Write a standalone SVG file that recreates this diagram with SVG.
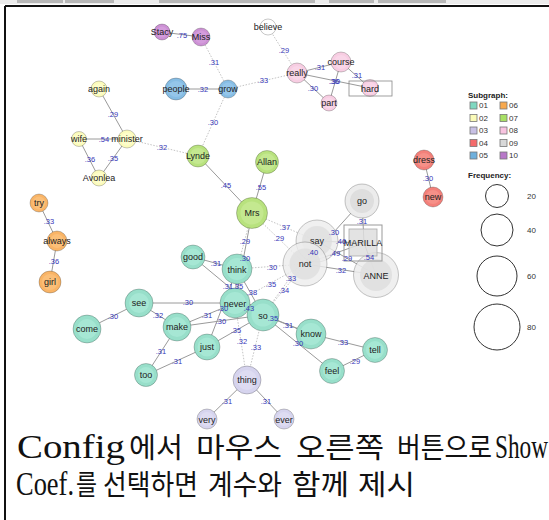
<svg xmlns="http://www.w3.org/2000/svg" width="549" height="520" viewBox="0 0 549 520">
<style>
  .bar { fill: #b8b8b8; }
  .e { stroke: #9a9a9a; stroke-width: 1; fill: none; }
  .d { stroke: #c4c4c4; stroke-width: 1; stroke-dasharray: 1.5 1.5; fill: none; }
  .w { font-family: "Liberation Sans", Arial, sans-serif; font-size: 7.5px; fill: #3636b8; text-anchor: middle; dominant-baseline: central; }
  .out { stroke: rgba(0,0,0,0.22); stroke-width: 1; }
  .lbl { font-family: "Liberation Sans", Arial, sans-serif; font-size: 9px; fill: #222; text-anchor: middle; dominant-baseline: central; }
  .g01 .out { fill: #98dfca; } .g01 .in { fill: #a6e7d4; }
  .g02 .out { fill: #fbfbbc; } .g02 .in { fill: #fdfdca; }
  .g03 .out { fill: #d6d4ee; } .g03 .in { fill: #dedcf2; }
  .g04 .out { fill: #f3807a; } .g04 .in { fill: #f69088; }
  .g05 .out { fill: #86bde4; } .g05 .in { fill: #94c6ea; }
  .g06 .out { fill: #f9b466; } .g06 .in { fill: #fbbf78; }
  .g07 .out { fill: #b8e27e; } .g07 .in { fill: #c4e890; }
  .g08 .out { fill: #f7cde2; } .g08 .in { fill: #f9d6e8; }
  .g09 .out { fill: #ececec; } .g09 .in { fill: #dedede; }
  .g10 .out { fill: #cc90d4; } .g10 .in { fill: #d49cdc; }
  .g00 .out { fill: #ffffff; } .g00 .in { fill: #ffffff; }
  .lg { font-family: "Liberation Sans", Arial, sans-serif; font-size: 8px; fill: #333; dominant-baseline: central; }
  .lgh { font-family: "Liberation Sans", Arial, sans-serif; font-size: 8px; font-weight: bold; fill: #222; }
  .sw { stroke: #777; stroke-width: 0.8; }
  .fc { fill: none; stroke: #333; stroke-width: 1; }
  .kr { font-family: "Noto Sans CJK KR", "Noto Sans CJK SC", sans-serif; font-size: 28px; fill: #111; }
  .la { font-family: "Liberation Serif", "Times New Roman", serif; font-size: 33px; fill: #111; }
</style>

<rect x="0" y="0" width="549" height="520" fill="#ffffff"/>

<!-- toolbar strip -->
<rect x="0" y="0" width="549" height="4" fill="#ececec"/>
<rect class="bar" x="17" y="0" width="46" height="3"/>
<rect class="bar" x="65" y="0" width="49" height="3"/>
<rect class="bar" x="159" y="0" width="156" height="3"/>
<rect class="bar" x="329" y="0" width="45" height="3"/>
<rect class="bar" x="378" y="0" width="68" height="3"/>

<!-- frame -->
<line x1="5" y1="6" x2="549" y2="6" stroke="#111" stroke-width="2"/>
<line x1="5" y1="6" x2="5" y2="520" stroke="#111" stroke-width="2"/>

<g id="connectors">
  <line class="e" x1="162" y1="32" x2="201" y2="37"/>
  <line class="e" x1="176" y1="89" x2="228" y2="89"/>
  <line class="d" x1="201" y1="37" x2="228" y2="89"/>
  <line class="d" x1="228" y1="89" x2="297" y2="73"/>
  <line class="d" x1="268" y1="27" x2="297" y2="73"/>
  <line class="d" x1="228" y1="89" x2="198" y2="156"/>
  <line class="d" x1="127" y1="139" x2="198" y2="156"/>
  <line class="e" x1="297" y1="73" x2="341" y2="62"/>
  <line class="e" x1="341" y1="62" x2="370" y2="88"/>
  <line class="e" x1="297" y1="73" x2="370" y2="88"/>
  <line class="e" x1="341" y1="62" x2="329" y2="103"/>
  <line class="e" x1="297" y1="73" x2="329" y2="103"/>
  <line class="e" x1="99" y1="89" x2="127" y2="139"/>
  <line class="e" x1="79" y1="139" x2="127" y2="139"/>
  <line class="e" x1="79" y1="139" x2="99" y2="178"/>
  <line class="e" x1="127" y1="139" x2="99" y2="178"/>
  <line class="e" x1="198" y1="156" x2="252" y2="213"/>
  <line class="e" x1="267" y1="162" x2="252" y2="213"/>
  <line class="e" x1="252" y1="213" x2="235" y2="303"/>
  <line class="d" x1="252" y1="213" x2="317" y2="241"/>
  <line class="d" x1="252" y1="213" x2="305" y2="264"/>
  <line class="d" x1="252" y1="213" x2="237" y2="269"/>
  <line class="e" x1="39" y1="203" x2="57" y2="241"/>
  <line class="e" x1="57" y1="241" x2="50" y2="282"/>
  <line class="e" x1="424" y1="160" x2="433" y2="197"/>
  <line class="e" x1="362" y1="201" x2="305" y2="264"/>
  <line class="e" x1="362" y1="201" x2="364" y2="243"/>
  <line class="e" x1="317" y1="241" x2="364" y2="243"/>
  <line class="e" x1="317" y1="241" x2="305" y2="264"/>
  <line class="e" x1="305" y1="264" x2="364" y2="243"/>
  <line class="e" x1="317" y1="241" x2="376" y2="275"/>
  <line class="e" x1="364" y1="243" x2="376" y2="275"/>
  <line class="e" x1="305" y1="264" x2="376" y2="275"/>
  <line class="e" x1="193" y1="257" x2="237" y2="269"/>
  <line class="e" x1="193" y1="257" x2="263" y2="315"/>
  <line class="e" x1="237" y1="269" x2="235" y2="303"/>
  <line class="e" x1="237" y1="269" x2="263" y2="315"/>
  <line class="d" x1="237" y1="269" x2="305" y2="264"/>
  <line class="d" x1="263" y1="315" x2="317" y2="241"/>
  <line class="d" x1="263" y1="315" x2="305" y2="264"/>
  <line class="d" x1="235" y1="303" x2="305" y2="264"/>
  <line class="e" x1="235" y1="303" x2="263" y2="315"/>
  <line class="e" x1="139" y1="303" x2="87" y2="329"/>
  <line class="e" x1="139" y1="303" x2="235" y2="303"/>
  <line class="e" x1="139" y1="303" x2="177" y2="327"/>
  <line class="e" x1="177" y1="327" x2="235" y2="303"/>
  <line class="e" x1="177" y1="327" x2="263" y2="315"/>
  <line class="e" x1="177" y1="327" x2="146" y2="375"/>
  <line class="e" x1="146" y1="375" x2="207" y2="347"/>
  <line class="e" x1="207" y1="347" x2="237" y2="269"/>
  <line class="e" x1="207" y1="347" x2="263" y2="315"/>
  <line class="e" x1="235" y1="303" x2="311" y2="334"/>
  <line class="e" x1="263" y1="315" x2="311" y2="334"/>
  <line class="e" x1="263" y1="315" x2="332" y2="371"/>
  <line class="e" x1="311" y1="334" x2="375" y2="350"/>
  <line class="e" x1="332" y1="371" x2="375" y2="350"/>
  <line class="d" x1="247" y1="380" x2="235" y2="303"/>
  <line class="d" x1="247" y1="380" x2="263" y2="315"/>
  <line class="e" x1="247" y1="380" x2="207" y2="419"/>
  <line class="e" x1="247" y1="380" x2="284" y2="419"/>
</g>

<g id="n-Stacy" class="g10"><circle class="out" cx="162" cy="32" r="8"/><circle class="in" cx="162" cy="32" r="5.5"/><text class="lbl" x="162" y="32">Stacy</text></g>
<g id="n-Miss" class="g10"><circle class="out" cx="201" cy="37" r="9"/><circle class="in" cx="201" cy="37" r="6.5"/><text class="lbl" x="201" y="37">Miss</text></g>
<g id="n-believe" class="g00"><circle class="out" cx="268" cy="27" r="8"/><text class="lbl" x="268" y="27">believe</text></g>
<g id="n-people" class="g05"><circle class="out" cx="176" cy="89" r="11"/><circle class="in" cx="176" cy="89" r="8"/><text class="lbl" x="176" y="89">people</text></g>
<g id="n-grow" class="g05"><circle class="out" cx="228" cy="89" r="9"/><circle class="in" cx="228" cy="89" r="6.5"/><text class="lbl" x="228" y="89">grow</text></g>
<g id="n-really" class="g08"><circle class="out" cx="297" cy="73" r="10"/><circle class="in" cx="297" cy="73" r="7"/><text class="lbl" x="297" y="73">really</text></g>
<g id="n-course" class="g08"><circle class="out" cx="341" cy="62" r="10"/><circle class="in" cx="341" cy="62" r="7"/><text class="lbl" x="341" y="62">course</text></g>
<g id="n-hard" class="g08"><circle class="out" cx="370" cy="88" r="8.5"/><circle class="in" cx="370" cy="88" r="6"/><rect x="349" y="81" width="43" height="15" fill="none" stroke="#888" stroke-width="0.8"/><text class="lbl" x="370" y="89">hard</text></g>
<g id="n-part" class="g08"><circle class="out" cx="329" cy="103" r="8"/><circle class="in" cx="329" cy="103" r="5.5"/><text class="lbl" x="329" y="103">part</text></g>
<g id="n-again" class="g02"><circle class="out" cx="99" cy="89" r="8"/><circle class="in" cx="99" cy="89" r="5.5"/><text class="lbl" x="99" y="89">again</text></g>
<g id="n-wife" class="g02"><circle class="out" cx="79" cy="139" r="7.5"/><circle class="in" cx="79" cy="139" r="5"/><text class="lbl" x="79" y="139">wife</text></g>
<g id="n-minister" class="g02"><circle class="out" cx="127" cy="139" r="9"/><circle class="in" cx="127" cy="139" r="6.5"/><text class="lbl" x="127" y="139">minister</text></g>
<g id="n-Avonlea" class="g02"><circle class="out" cx="99" cy="178" r="8"/><circle class="in" cx="99" cy="178" r="5.5"/><text class="lbl" x="99" y="178">Avonlea</text></g>
<g id="n-Lynde" class="g07"><circle class="out" cx="198" cy="156" r="11"/><circle class="in" cx="198" cy="156" r="8"/><text class="lbl" x="198" y="156">Lynde</text></g>
<g id="n-Allan" class="g07"><circle class="out" cx="267" cy="162" r="11.5"/><circle class="in" cx="267" cy="162" r="8.5"/><text class="lbl" x="267" y="162">Allan</text></g>
<g id="n-Mrs" class="g07"><circle class="out" cx="252" cy="213" r="15.5"/><circle class="in" cx="252" cy="213" r="11.5"/><text class="lbl" x="252" y="213">Mrs</text></g>
<g id="n-go" class="g09"><circle class="out" cx="362" cy="201" r="17"/><circle class="in" cx="362" cy="201" r="12"/><text class="lbl" x="362" y="201">go</text></g>
<g id="n-say" class="g09"><circle class="out" cx="317" cy="241" r="21" fill-opacity="0.8"/><circle class="in" cx="317" cy="241" r="15" fill-opacity="0.8"/><text class="lbl" x="317" y="241">say</text></g>
<g id="n-not" class="g09"><circle class="out" cx="305" cy="264" r="22" fill-opacity="0.8"/><circle class="in" cx="305" cy="264" r="15.5" fill-opacity="0.8"/><text class="lbl" x="305" y="264">not</text></g>
<g id="n-ANNE" class="g09"><circle class="out" cx="376" cy="275" r="22.5" fill-opacity="0.85"/><circle class="in" cx="376" cy="275" r="16" fill-opacity="0.85"/><text class="lbl" x="376" y="276">ANNE</text></g>
<g id="n-MARILLA" class="g09"><rect x="344" y="225" width="38" height="36" fill="none" stroke="#999" stroke-width="1"/><rect class="in" x="349" y="229" width="28" height="27" stroke="#aaa" stroke-width="0.8" fill-opacity="0.85"/><text class="lbl" x="363" y="243">MARILLA</text></g>
<g id="n-think" class="g01"><circle class="out" cx="237" cy="269" r="15"/><circle class="in" cx="237" cy="269" r="11"/><text class="lbl" x="237" y="270">think</text></g>
<g id="n-good" class="g01"><circle class="out" cx="193" cy="257" r="12"/><circle class="in" cx="193" cy="257" r="8.5"/><text class="lbl" x="193" y="257">good</text></g>
<g id="n-never" class="g01"><circle class="out" cx="235" cy="303" r="15"/><circle class="in" cx="235" cy="303" r="11"/><text class="lbl" x="235" y="304">never</text></g>
<g id="n-so" class="g01"><circle class="out" cx="263" cy="315" r="16"/><circle class="in" cx="263" cy="315" r="11.5"/><text class="lbl" x="263" y="316">so</text></g>
<g id="n-see" class="g01"><circle class="out" cx="139" cy="303" r="14"/><circle class="in" cx="139" cy="303" r="10"/><text class="lbl" x="139" y="303">see</text></g>
<g id="n-come" class="g01"><circle class="out" cx="87" cy="329" r="14"/><circle class="in" cx="87" cy="329" r="10"/><text class="lbl" x="87" y="329">come</text></g>
<g id="n-make" class="g01"><circle class="out" cx="177" cy="327" r="14"/><circle class="in" cx="177" cy="327" r="10"/><text class="lbl" x="177" y="327">make</text></g>
<g id="n-just" class="g01"><circle class="out" cx="207" cy="347" r="13"/><circle class="in" cx="207" cy="347" r="9.5"/><text class="lbl" x="207" y="347">just</text></g>
<g id="n-too" class="g01"><circle class="out" cx="146" cy="375" r="11.5"/><circle class="in" cx="146" cy="375" r="8"/><text class="lbl" x="146" y="375">too</text></g>
<g id="n-know" class="g01"><circle class="out" cx="311" cy="334" r="15"/><circle class="in" cx="311" cy="334" r="11"/><text class="lbl" x="311" y="334">know</text></g>
<g id="n-tell" class="g01"><circle class="out" cx="375" cy="350" r="12.5"/><circle class="in" cx="375" cy="350" r="9"/><text class="lbl" x="375" y="350">tell</text></g>
<g id="n-feel" class="g01"><circle class="out" cx="332" cy="371" r="12.5"/><circle class="in" cx="332" cy="371" r="9"/><text class="lbl" x="332" y="371">feel</text></g>
<g id="n-thing" class="g03"><circle class="out" cx="247" cy="380" r="14"/><circle class="in" cx="247" cy="380" r="10"/><text class="lbl" x="247" y="380">thing</text></g>
<g id="n-very" class="g03"><circle class="out" cx="207" cy="419" r="10"/><circle class="in" cx="207" cy="419" r="7"/><text class="lbl" x="207" y="420">very</text></g>
<g id="n-ever" class="g03"><circle class="out" cx="284" cy="419" r="10"/><circle class="in" cx="284" cy="419" r="7"/><text class="lbl" x="284" y="420">ever</text></g>
<g id="n-dress" class="g04"><circle class="out" cx="424" cy="160" r="10"/><circle class="in" cx="424" cy="160" r="7"/><text class="lbl" x="424" y="160">dress</text></g>
<g id="n-new" class="g04"><circle class="out" cx="433" cy="197" r="10"/><circle class="in" cx="433" cy="197" r="7"/><text class="lbl" x="433" y="197">new</text></g>
<g id="n-try" class="g06"><circle class="out" cx="39" cy="203" r="9"/><circle class="in" cx="39" cy="203" r="6.5"/><text class="lbl" x="39" y="203">try</text></g>
<g id="n-always" class="g06"><circle class="out" cx="57" cy="241" r="10"/><circle class="in" cx="57" cy="241" r="7"/><text class="lbl" x="57" y="241">always</text></g>
<g id="n-girl" class="g06"><circle class="out" cx="50" cy="282" r="11"/><circle class="in" cx="50" cy="282" r="8"/><text class="lbl" x="50" y="282">girl</text></g>

<g id="connector-labels">
  <text class="w" x="182" y="35">.75</text>
  <text class="w" x="203" y="89">.32</text>
  <text class="w" x="214" y="62">.31</text>
  <text class="w" x="263" y="80">.33</text>
  <text class="w" x="284" y="50">.29</text>
  <text class="w" x="320" y="67">.31</text>
  <text class="w" x="357" y="75">.31</text>
  <text class="w" x="334" y="81">.36</text>
  <text class="w" x="335" y="81">.30</text>
  <text class="w" x="313" y="88">.30</text>
  <text class="w" x="113" y="114">.29</text>
  <text class="w" x="104" y="139">.54</text>
  <text class="w" x="90" y="159">.36</text>
  <text class="w" x="113" y="158">.35</text>
  <text class="w" x="162" y="147">.32</text>
  <text class="w" x="213" y="122">.30</text>
  <text class="w" x="226" y="185">.45</text>
  <text class="w" x="261" y="187">.55</text>
  <text class="w" x="285" y="227">.37</text>
  <text class="w" x="279" y="238">.29</text>
  <text class="w" x="245" y="241">.29</text>
  <text class="w" x="245" y="258">.30</text>
  <text class="w" x="362" y="221">.31</text>
  <text class="w" x="334" y="232">.30</text>
  <text class="w" x="341" y="241">.46</text>
  <text class="w" x="313" y="252">.40</text>
  <text class="w" x="335" y="253">.49</text>
  <text class="w" x="347" y="258">.29</text>
  <text class="w" x="369" y="257">.54</text>
  <text class="w" x="341" y="270">.32</text>
  <text class="w" x="216" y="263">.31</text>
  <text class="w" x="228" y="286">.31</text>
  <text class="w" x="238" y="286">.35</text>
  <text class="w" x="252" y="292">.38</text>
  <text class="w" x="272" y="267">.30</text>
  <text class="w" x="291" y="278">.33</text>
  <text class="w" x="284" y="290">.34</text>
  <text class="w" x="271" y="284">.35</text>
  <text class="w" x="249" y="308">.43</text>
  <text class="w" x="188" y="302">.30</text>
  <text class="w" x="113" y="316">.30</text>
  <text class="w" x="158" y="315">.32</text>
  <text class="w" x="207" y="315">.31</text>
  <text class="w" x="221" y="321">.30</text>
  <text class="w" x="223" y="308">.30</text>
  <text class="w" x="161" y="351">.31</text>
  <text class="w" x="177" y="361">.31</text>
  <text class="w" x="236" y="330">.35</text>
  <text class="w" x="273" y="318">.35</text>
  <text class="w" x="288" y="325">.31</text>
  <text class="w" x="298" y="343">.30</text>
  <text class="w" x="343" y="342">.33</text>
  <text class="w" x="355" y="361">.29</text>
  <text class="w" x="242" y="341">.32</text>
  <text class="w" x="256" y="347">.33</text>
  <text class="w" x="227" y="401">.31</text>
  <text class="w" x="266" y="401">.31</text>
  <text class="w" x="49" y="221">.33</text>
  <text class="w" x="54" y="261">.36</text>
  <text class="w" x="428" y="178">.30</text>
</g>

<g id="legend">
  <text class="lgh" x="468" y="98">Subgraph:</text>
  <rect class="sw" x="470" y="102" width="7" height="7" fill="#80d8c0"/><text class="lg" x="479" y="105.5">01</text>
  <rect class="sw" x="470" y="114.5" width="7" height="7" fill="#fbfbb8"/><text class="lg" x="479" y="118">02</text>
  <rect class="sw" x="470" y="127" width="7" height="7" fill="#c8c0e4"/><text class="lg" x="479" y="130.5">03</text>
  <rect class="sw" x="470" y="139.5" width="7" height="7" fill="#f46a6a"/><text class="lg" x="479" y="143">04</text>
  <rect class="sw" x="470" y="152" width="7" height="7" fill="#6fb0dc"/><text class="lg" x="479" y="155.5">05</text>
  <rect class="sw" x="500" y="102" width="7" height="7" fill="#f8a84c"/><text class="lg" x="509" y="105.5">06</text>
  <rect class="sw" x="500" y="114.5" width="7" height="7" fill="#a8e064"/><text class="lg" x="509" y="118">07</text>
  <rect class="sw" x="500" y="127" width="7" height="7" fill="#f8c4e0"/><text class="lg" x="509" y="130.5">08</text>
  <rect class="sw" x="500" y="139.5" width="7" height="7" fill="#d8d8d8"/><text class="lg" x="509" y="143">09</text>
  <rect class="sw" x="500" y="152" width="7" height="7" fill="#b878c8"/><text class="lg" x="509" y="155.5">10</text>
  <text class="lgh" x="468" y="178">Frequency:</text>
  <circle class="fc" cx="497" cy="196" r="11.5"/><text class="lg" x="527" y="196">20</text>
  <circle class="fc" cx="497" cy="230" r="16"/><text class="lg" x="527" y="230">40</text>
  <circle class="fc" cx="497" cy="276" r="20"/><text class="lg" x="527" y="276">60</text>
  <circle class="fc" cx="497" cy="327" r="23"/><text class="lg" x="527" y="327">80</text>
</g>

<!-- caption panel -->
<rect x="6" y="430" width="543" height="90" fill="#ffffff"/>
<g id="caption">
  <text class="la" x="17" y="458" textLength="108" lengthAdjust="spacingAndGlyphs">Config</text>
  <text class="kr" x="129" y="458" textLength="54" lengthAdjust="spacingAndGlyphs">에서</text>
  <text class="kr" x="196" y="458" textLength="86" lengthAdjust="spacingAndGlyphs">마우스</text>
  <text class="kr" x="296" y="458" textLength="88" lengthAdjust="spacingAndGlyphs">오른쪽</text>
  <text class="kr" x="397" y="458" textLength="95" lengthAdjust="spacingAndGlyphs">버튼으로</text>
  <text class="la" x="495" y="458" textLength="53" lengthAdjust="spacingAndGlyphs">Show</text>
  <text class="la" x="16" y="495" textLength="58" lengthAdjust="spacingAndGlyphs">Coef.</text>
  <text class="kr" x="76" y="495" textLength="21" lengthAdjust="spacingAndGlyphs">를</text>
  <text class="kr" x="103" y="495" textLength="95" lengthAdjust="spacingAndGlyphs">선택하면</text>
  <text class="kr" x="208" y="495" textLength="74" lengthAdjust="spacingAndGlyphs">계수와</text>
  <text class="kr" x="292" y="495" textLength="57" lengthAdjust="spacingAndGlyphs">함께</text>
  <text class="kr" x="358" y="495" textLength="57" lengthAdjust="spacingAndGlyphs">제시</text>
</g>
</svg>
